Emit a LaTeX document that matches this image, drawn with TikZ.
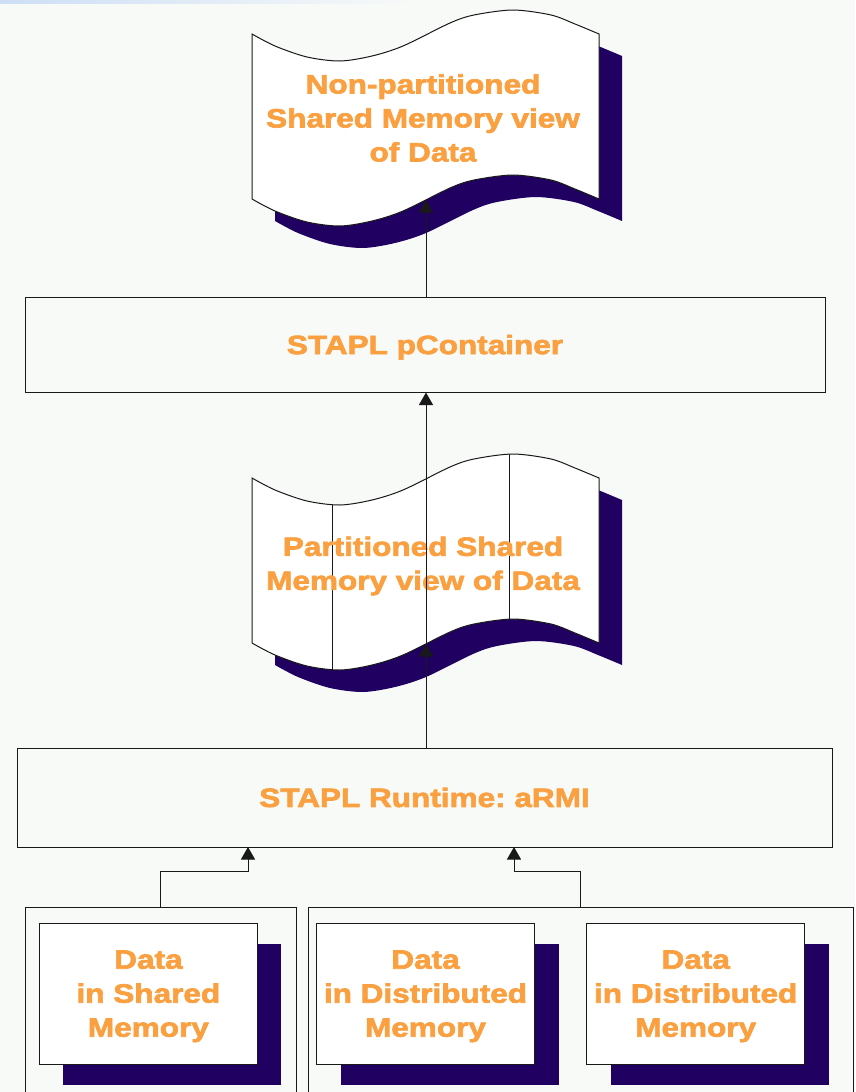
\documentclass[tikz,border=0pt]{standalone}
\usepackage{fontspec}
\newfontfamily\diagfont{Liberation Sans Bold}[FakeStretch=1.19, FakeBold=2.5]
\usetikzlibrary{arrows.meta,shadows}

\definecolor{paper}{RGB}{248,250,248}
\definecolor{stapl}{RGB}{250,160,64}
\definecolor{ink}{RGB}{32,0,96}
\definecolor{strip}{RGB}{205,222,245}

% waving sheet, origin at its top left corner
\tikzset{
  pics/flag/.style = {code = {
    \draw[flagline] plot[smooth] coordinates {(0,0) (23,12) (55,23) (88,27) (120,22) (151,12) (198,-11) (222,-19) (261,-24) (299,-19) (323,-10) (347,0)}
      -- plot[smooth] coordinates {(347,165) (323,155) (299,146) (261,141) (222,146) (198,154) (151,177) (120,187) (88,192) (55,188) (23,177) (0,165)}
      -- cycle;
  }}
}

\begin{document}
\begin{tikzpicture}[x=1pt, y=-1pt,
    layer/.style = {draw=black!90, line width=1pt, fill=paper, inner sep=0pt},
    memory/.style = {layer, fill=white, minimum width=218pt, minimum height=141pt,
      drop shadow={shadow xshift=24pt, shadow yshift=-21pt, fill=ink, opacity=1}},
    flagline/.style = {draw=black!90, line width=1pt, fill=white,
      drop shadow={shadow xshift=23pt, shadow yshift=-22pt, fill=ink, opacity=1}},
    txt/.style = {font=\diagfont\fontsize{26.5}{34}\selectfont\frenchspacing, text=stapl, align=center},
    arr/.style = {-{Triangle[length=12.5pt, width=14pt]}, line width=1pt, draw=black!90}]

  \useasboundingbox (0,0) rectangle (855,1092);
  \fill[paper] (0,0) rectangle (855,1092);
  \clip (0,0) rectangle (855,1092);
  \shade[left color=strip, right color=paper] (0,0) rectangle (420,3);

  % sheets
  \pic (flagA) at (252,34) {flag};
  \pic (flagB) at (252,478) {flag};
  \draw[black!90, line width=1pt] (332,505) -- (332,670);
  \draw[black!90, line width=1pt] (509,454) -- (509,619);
  \node[txt] (flagAtext) at (423,118) {Non-partitioned\\Shared Memory view\\of Data};
  \node[txt] (flagBtext) at (423,566) {Partitioned Shared\\Memory view of Data};

  % layers
  \node[layer, txt, text depth=0pt, minimum width=800pt, minimum height=95pt] (pcont) at (425,344.5) {STAPL pContainer};
  \node[layer, txt, minimum width=815pt, minimum height=99pt] (runtime) at (424.5,797.5) {STAPL Runtime: aRMI};

  % memories
  \node[layer, minimum width=270.4pt, minimum height=205pt] (shared) at (160.8,1010) {};
  \node[layer, minimum width=544.4pt, minimum height=205pt] (distributed) at (580.8,1010) {};
  \node[memory] (dataA) at (148.4,993.8) {};
  \node[memory] (dataB) at (425.5,993.8) {};
  \node[memory] (dataC) at (695.7,993.8) {};
  \node[txt] (dataAtext) at (148.4,996.3) {Data\\in Shared\\Memory};
  \node[txt] (dataBtext) at (425.5,996.3) {Data\\in Distributed\\Memory};
  \node[txt] (dataCtext) at (695.7,996.3) {Data\\in Distributed\\Memory};

  % connectors
  \coordinate (flagAfoot) at (426,200);
  \coordinate (flagBfoot) at (426,644);
  \coordinate (sharedport) at (248,847);
  \coordinate (distport) at (514,847);
  \draw[arr] (flagAfoot |- pcont.north) -- (flagAfoot);
  \draw[arr] (flagBfoot |- runtime.north) -- (flagBfoot);
  \draw[arr] (flagBfoot |- runtime.north) -- (flagBfoot |- pcont.south);
  \draw[arr] (shared.north) -- ++(0,-35.5) -| (sharedport);
  \draw[arr] (distributed.north) -- ++(0,-35.5) -| (distport);
\end{tikzpicture}
\end{document}
